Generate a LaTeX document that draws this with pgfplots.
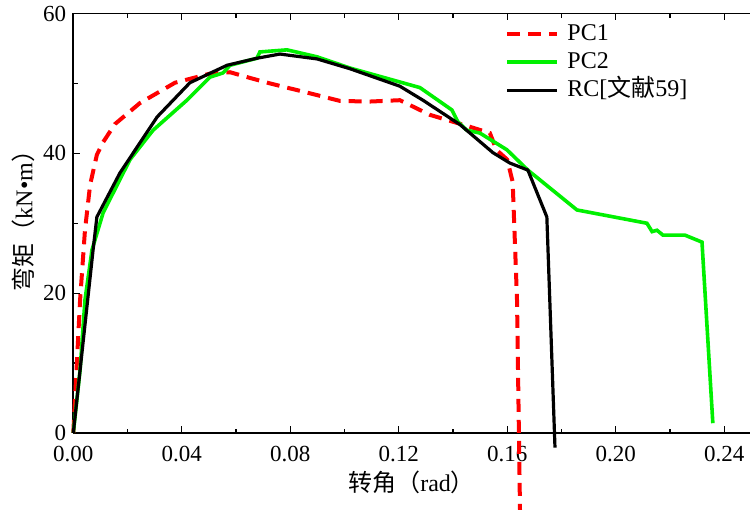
\documentclass[border=0pt]{standalone}
\usepackage{pgfplots}
\pgfplotsset{compat=1.18}
\usepackage{fontspec}
\setmainfont{Liberation Serif}
\newfontfamily\cjk{Noto Sans CJK SC}
\definecolor{pcred}{RGB}{255,0,0}
\definecolor{pcgreen}{RGB}{0,240,0}
\begin{document}
\begin{tikzpicture}
\begin{axis}[
  scale only axis,
  width=338.35pt, height=209.75pt,
  xmin=0, xmax=0.2495, ymin=0, ymax=60,
  axis x line=box, axis y line=left,
  axis line style={-, line width=0.8pt},
  tick align=inside,
  xtick={0,0.04,0.08,0.12,0.16,0.20,0.24},
  ytick={0,20,40,60},
  minor x tick num=1, minor y tick num=1,
  major tick length=3.5pt, minor tick length=2.2pt,
  tick style={line width=0.6pt, black},
  clip=false,
  /pgf/number format/assume math mode=true,
  tick label style={font=\fontsize{11.5}{13}\selectfont},
  xticklabel style={yshift=-3pt, /pgf/number format/.cd, fixed, fixed zerofill, precision=2},
  yticklabel style={/pgf/number format/.cd, fixed},
  scaled x ticks=false,
  xlabel={{\cjk 转角（}rad{\cjk ）}},
  ylabel={{\cjk 弯矩（}kN•m{\cjk ）}},
  label style={font=\fontsize{12}{14}\selectfont},
  xlabel style={at={(axis description cs:0.5,0)}, anchor=center, yshift=-24.5pt},
  ylabel style={at={(axis description cs:-0.0739,0.52)}, anchor=center, rotate=0},
  legend style={draw=none, fill=none, at={(rel axis cs:0.638,0.985)}, anchor=north west,
    inner sep=0pt, font=\fontsize{12}{14}\selectfont,
    nodes={inner sep=1pt, text height=9pt, text depth=3pt},
    row sep=0pt, column sep=3pt},
  legend cell align=left,
  legend image code/.code={\draw[#1] (0pt,0pt) -- (25pt,0pt);},
]
\addplot[pcred, line width=2pt, dash pattern=on 6.5pt off 4pt] coordinates {
(0,0) (0.0025,19) (0.0043,29) (0.0062,35.5) (0.0087,39.8) (0.011,41.6)
(0.0154,44.2) (0.0246,47.2) (0.0375,50.1) (0.0504,51.4) (0.0578,51.6)
(0.065,50.8) (0.0725,50.0) (0.085,48.8) (0.0983,47.5) (0.109,47.4)
(0.1204,47.6) (0.1315,45.5) (0.1462,43.8) (0.1536,42.9) (0.156,40.5)
(0.160,39.1) (0.162,35.9) (0.1636,19) (0.1647,-11)
};
\addlegendentry{PC1}
\addplot[pcgreen, line width=1.8pt] coordinates {
(0,0) (0.0025,9) (0.0043,19) (0.0069,26.2) (0.011,31.5) (0.0209,39.1)
(0.0294,43.3) (0.0419,47.6) (0.0504,50.9) (0.0552,51.5) (0.0578,52.6)
(0.0677,53.6) (0.0688,54.5) (0.0788,54.8) (0.0899,53.8) (0.102,52.2)
(0.1149,50.8) (0.1278,49.4) (0.1396,46.2) (0.1418,44.5) (0.1451,43.3)
(0.1499,42.9) (0.1599,40.5) (0.1676,37.6) (0.1857,31.9) (0.2115,30.0)
(0.2134,28.8) (0.2152,29.0) (0.2174,28.3) (0.2255,28.3) (0.2318,27.3)
(0.2358,1.4)
};
\addlegendentry{PC2}
\addplot[black, line width=1.6pt] coordinates {
(0,0) (0.0073,26.2) (0.0087,30.9) (0.0172,37.2) (0.0309,45.2) (0.043,50.1)
(0.0567,52.6) (0.0677,53.6) (0.0762,54.2) (0.0899,53.5) (0.102,52.1)
(0.1204,49.6) (0.1289,47.6) (0.1426,44.1) (0.1547,40.1) (0.161,38.6)
(0.1676,37.6) (0.1746,30.9) (0.1776,-2.1)
};
\addlegendentry{RC[{\cjk 文献}59]}
\end{axis}
\pgfresetboundingbox
\path ([shift={(-36.65pt,-40pt)}]current axis.south west) rectangle ([shift={(0pt,6.75pt)}]current axis.north east);
\end{tikzpicture}
\end{document}
